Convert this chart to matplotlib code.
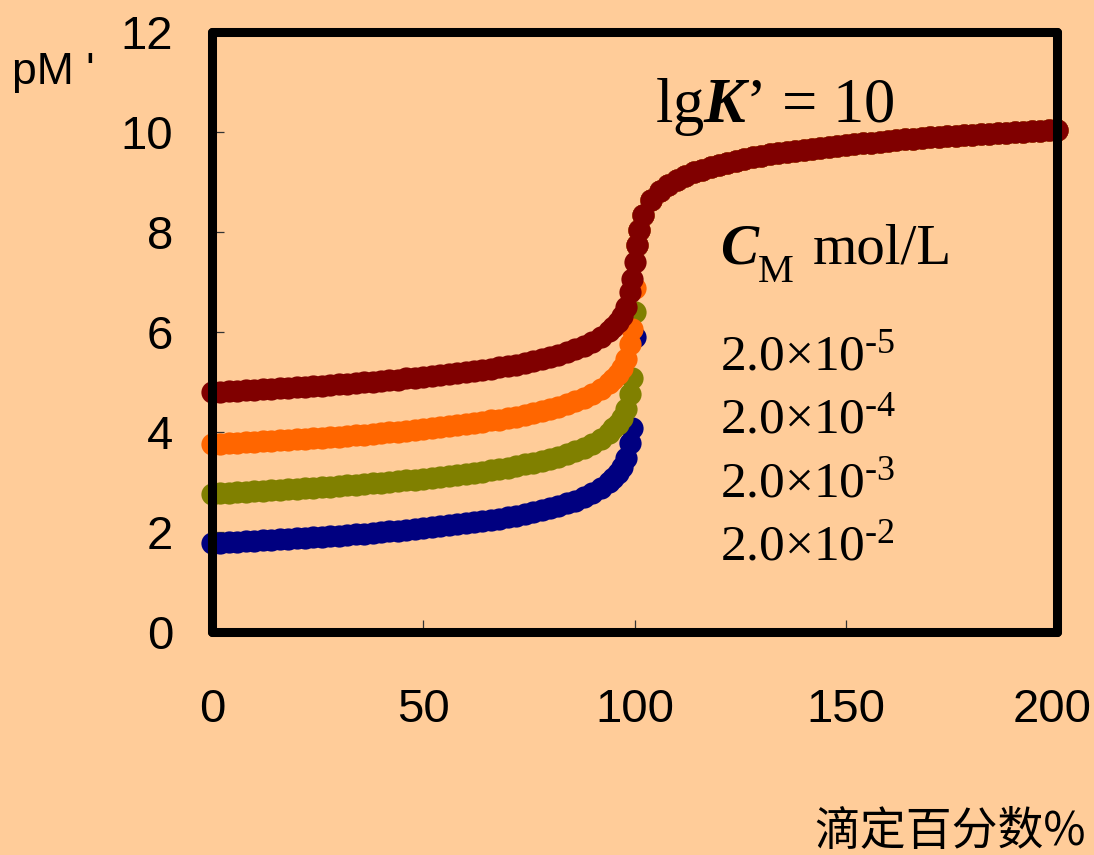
import matplotlib
matplotlib.use("Agg")
import matplotlib.pyplot as plt
import matplotlib.transforms as mtransforms
from matplotlib import font_manager

# 滴定百分数 (%) -- points before the equivalence point
x_pre = [0, 2, 4, 6, 8, 10, 12, 14, 16, 18, 20, 22, 24, 26, 28, 30, 32, 34, 36, 38,
         40, 42, 44, 46, 48, 50, 52, 54, 56, 58, 60, 62, 64, 66, 68, 70, 72, 74, 76, 78,
         80, 82, 84, 86, 88, 90, 92, 94, 95, 96, 97, 98, 99, 99.5, 100]

# pM' before equivalence, one list per C_M
pm_2e2 = [1.78, 1.79, 1.80, 1.81, 1.82, 1.83, 1.84, 1.85, 1.86, 1.87, 1.88, 1.89, 1.90, 1.91,
          1.92, 1.93, 1.95, 1.96, 1.97, 1.99, 2.00, 2.02, 2.03, 2.05, 2.06, 2.08, 2.10, 2.12,
          2.14, 2.16, 2.18, 2.20, 2.22, 2.25, 2.27, 2.30, 2.33, 2.37, 2.40, 2.44, 2.48, 2.52,
          2.58, 2.63, 2.70, 2.78, 2.88, 3.00, 3.08, 3.18, 3.30, 3.48, 3.78, 4.08, 5.90]
pm_2e3 = [2.77, 2.78, 2.79, 2.80, 2.81, 2.82, 2.83, 2.84, 2.85, 2.86, 2.87, 2.88, 2.89, 2.90,
          2.91, 2.92, 2.94, 2.95, 2.96, 2.98, 2.99, 3.01, 3.02, 3.04, 3.05, 3.07, 3.09, 3.11,
          3.13, 3.15, 3.17, 3.19, 3.21, 3.24, 3.26, 3.29, 3.32, 3.36, 3.39, 3.43, 3.47, 3.51,
          3.57, 3.62, 3.69, 3.77, 3.87, 3.99, 4.07, 4.17, 4.29, 4.47, 4.77, 5.07, 6.40]
pm_2e4 = [3.76, 3.77, 3.78, 3.79, 3.80, 3.81, 3.82, 3.83, 3.84, 3.85, 3.86, 3.87, 3.88, 3.89,
          3.90, 3.91, 3.93, 3.94, 3.95, 3.97, 3.98, 4.00, 4.01, 4.03, 4.04, 4.06, 4.08, 4.10,
          4.12, 4.14, 4.16, 4.18, 4.20, 4.23, 4.25, 4.28, 4.31, 4.35, 4.38, 4.42, 4.46, 4.50,
          4.56, 4.61, 4.68, 4.76, 4.86, 4.98, 5.06, 5.16, 5.28, 5.46, 5.76, 6.06, 6.88]
pm_2e5 = [4.80, 4.81, 4.82, 4.83, 4.84, 4.85, 4.86, 4.87, 4.88, 4.89, 4.90, 4.91, 4.92, 4.93,
          4.94, 4.95, 4.97, 4.98, 4.99, 5.01, 5.02, 5.04, 5.05, 5.07, 5.08, 5.10, 5.12, 5.14,
          5.16, 5.18, 5.20, 5.22, 5.24, 5.27, 5.29, 5.32, 5.35, 5.39, 5.42, 5.46, 5.50, 5.54,
          5.60, 5.65, 5.72, 5.80, 5.90, 6.02, 6.10, 6.20, 6.32, 6.50, 6.80, 7.05, 7.40]

# after the equivalence point all curves coincide
x_post = [100.5, 101, 102, 104, 106, 108, 110, 112, 114, 116, 118, 120, 122, 124, 126, 128,
          130, 132, 134, 136, 138, 140, 142, 144, 146, 148, 150, 152, 154, 156, 158, 160,
          162, 164, 166, 168, 170, 172, 174, 176, 178, 180, 182, 184, 186, 188, 190, 192,
          194, 196, 198, 200]
pm_post = [7.74, 8.04, 8.34, 8.64, 8.82, 8.94, 9.04, 9.12, 9.19, 9.24, 9.30, 9.34, 9.38, 9.42,
           9.45, 9.49, 9.52, 9.55, 9.57, 9.60, 9.62, 9.64, 9.66, 9.68, 9.70, 9.72, 9.74, 9.76,
           9.77, 9.79, 9.80, 9.82, 9.83, 9.85, 9.86, 9.87, 9.89, 9.90, 9.91, 9.92, 9.93, 9.94,
           9.95, 9.96, 9.97, 9.98, 9.99, 10.00, 10.01, 10.02, 10.03, 10.04]

conc_labels = ['2.0×10$^{\\text{-5}}$', '2.0×10$^{\\text{-4}}$',
               '2.0×10$^{\\text{-3}}$', '2.0×10$^{\\text{-2}}$']

bg = '#FFCC99'
installed = {f.name for f in font_manager.fontManager.ttflist}
if 'Liberation Sans Narrow' in installed:
    narrow, tick_fs = ['Liberation Sans Narrow', 'DejaVu Sans'], 40
else:
    narrow, tick_fs = ['Liberation Sans', 'DejaVu Sans'], 34
serif = ['Liberation Serif', 'DejaVu Serif']

plt.rcParams['mathtext.fontset'] = 'custom'
plt.rcParams['mathtext.rm'] = 'Liberation Serif'
plt.rcParams['mathtext.it'] = 'Liberation Serif:italic'
plt.rcParams['mathtext.bf'] = 'Liberation Serif:bold'
plt.rcParams['mathtext.bfit'] = 'Liberation Serif:italic:bold'

fig = plt.figure(figsize=(10.94, 8.55), dpi=100, facecolor=bg)
ax = fig.add_axes([212 / 1094, 1 - 632 / 855, (1057 - 212) / 1094, (632 - 32) / 855])
ax.set_facecolor(bg)

series = [(pm_2e2, '#000080'), (pm_2e3, '#808000'), (pm_2e4, '#FF6600'), (pm_2e5, '#800000')]
for vals, col in series:
    ax.plot(x_pre + x_post, vals + pm_post, 'o', color=col, markersize=16,
            markeredgewidth=0, clip_on=False, zorder=3)

ax.set_xlim(0, 200)
ax.set_ylim(0, 12)
ax.set_xticks([0, 50, 100, 150, 200])
ax.set_yticks([0, 2, 4, 6, 8, 10, 12])
ax.tick_params(direction='in', length=8.5, width=0.9, color='#333333',
               labelsize=tick_fs, labelcolor='black')
ax.tick_params(axis='y', pad=28)
ax.tick_params(axis='x', pad=40)
for lab in ax.get_xticklabels() + ax.get_yticklabels():
    lab.set_family(narrow)
# keep the last x label inside the figure edge
last = ax.get_xticklabels()[-1]
last.set_transform(last.get_transform() +
                   mtransforms.ScaledTranslation(-5 / 100, 0, fig.dpi_scale_trans))

for sp in ax.spines.values():
    sp.set_linewidth(6.5)
    sp.set_capstyle('round')
    sp.set_joinstyle('round')
    sp.set_zorder(4)

ax.text(104.9, 10.2, 'lg$\\mathbfit{K}$’ = 10', fontsize=45, family=serif,
        ha='left', va='baseline')
ax.text(120.2, 7.38, 'C', fontsize=41, family=serif, weight='bold', style='italic',
        ha='left', va='baseline')
ax.text(129.2, 7.0, 'M', fontsize=29, family=serif, ha='left', va='baseline')
ax.text(142.1, 7.38, 'mol/L', fontsize=41, family=serif, ha='left', va='baseline')
for lab, yb in zip(conc_labels, [5.24, 3.98, 2.70, 1.44]):
    ax.text(120.2, yb, lab, fontsize=37, family=serif, ha='left', va='baseline')

fig.text(12 / 1094, 1 - 84 / 855, "pM '", fontsize=32, family=narrow,
         ha='left', va='baseline')
fig.text(1086 / 1094, 1 - 845 / 855, '滴定百分数%', fontsize=33,
         family=['Noto Sans CJK SC', 'DejaVu Sans'], ha='right', va='baseline')

fig.savefig('out.png', dpi=100, facecolor=bg)
